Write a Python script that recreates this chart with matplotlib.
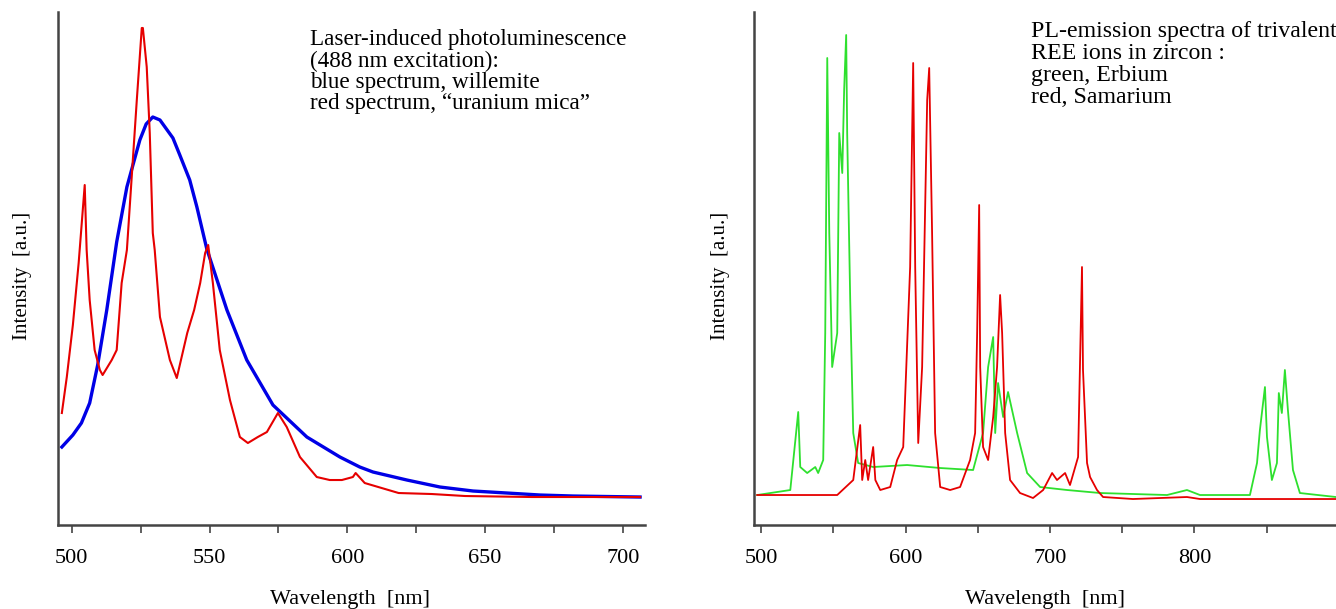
import numpy as np
import matplotlib.pyplot as plt
from matplotlib.ticker import MultipleLocator

plt.rcParams['font.family'] = ['Liberation Serif', 'DejaVu Serif']

# Left panel: willemite (blue) and "uranium mica" (red), 488 nm excitation
wl_blue = [496.4, 500.4, 503.5, 506.5, 509.4, 512.7, 516.3, 520.0, 524.7, 527.0, 529.4, 532.0,
           536.7, 539.2, 542.8, 545.4, 549.0, 556.3, 563.5, 573.0, 585.3, 597.3, 604.5,
           609.3, 621.6, 633.6, 645.6, 657.9, 669.9, 681.9, 706.2]
int_blue = [78, 90, 102, 122, 160, 215, 283, 338, 385, 401, 408, 405,
            387, 370, 345, 318, 276, 215, 165, 120, 88, 68, 58,
            53, 45, 38, 34, 32, 30, 29, 28]

wl_red = [496.4, 498.2, 500.4, 502.5, 504.7, 505.4, 506.5, 508.3, 510.2, 511.2, 514.5,
          516.3, 518.1, 520.0, 523.6, 525.4, 525.8, 527.2, 528.3, 529.4, 530.1, 532.0,
          535.6, 538.1, 541.9, 544.4, 546.6, 548.4, 549.5, 551.2, 553.7, 557.4, 561.0,
          563.9, 567.5, 570.8, 574.8, 578.0, 582.8, 588.9, 593.6, 598.0, 602.0, 603.0,
          606.3, 618.6, 630.6, 642.7, 667.0, 706.2]
int_red = [112, 148, 200, 262, 340, 275, 225, 175, 155, 150, 165,
           175, 242, 275, 425, 497, 497, 458, 392, 292, 275, 208,
           165, 147, 192, 215, 242, 272, 280, 242, 175, 125, 88,
           82, 88, 93, 112, 98, 68, 48, 45, 45, 48, 52,
           42, 32, 31, 29, 28, 28]

# Right panel: trivalent REE ions in zircon, Erbium (green) and Samarium (red)
wl_er = [497.2, 520.1, 525.6, 527.0, 531.8, 537.4, 539.4, 542.9, 544.3, 545.7, 547.1,
         549.1, 552.6, 554.0, 556.1, 557.4, 558.8, 559.5, 561.6, 563.7, 567.1, 577.5,
         601.0, 623.9, 646.7, 653.6, 657.1, 660.6, 662.0, 664.0, 667.5, 670.9, 677.2,
         684.1, 693.1, 711.8, 734.6, 781.0, 794.8, 803.8, 838.4, 843.3, 845.3, 848.8,
         850.2, 853.6, 857.1, 858.4, 860.5, 862.6, 864.7, 868.2, 873.0, 897.9]
int_er = [30, 35, 113, 58, 52, 58, 52, 65, 192, 467, 292,
          158, 192, 392, 352, 435, 490, 392, 225, 92, 62, 58,
          60, 57, 55, 92, 158, 188, 92, 142, 108, 133, 92,
          52, 38, 35, 32, 30, 35, 30, 30, 62, 95, 138,
          88, 45, 62, 132, 112, 155, 115, 55, 32, 28]

wl_sm = [497.2, 552.6, 563.7, 568.5, 569.9, 572.0, 574.0, 577.5, 579.0, 582.4, 589.3,
         594.1, 598.3, 603.1, 605.2, 606.6, 608.7, 611.4, 614.9, 616.3, 618.3, 620.4,
         623.9, 630.8, 637.7, 644.6, 648.1, 649.5, 650.9, 651.6, 653.6, 657.1, 660.6,
         663.3, 665.4, 666.8, 668.9, 672.3, 679.2, 688.2, 695.2, 701.4, 704.8, 710.4,
         713.8, 719.4, 722.1, 722.8, 725.6, 727.7, 732.5, 736.7, 757.4, 794.8, 803.8,
         897.9]
int_sm = [30, 30, 45, 100, 45, 65, 45, 78, 45, 35, 38,
          65, 78, 258, 462, 258, 82, 158, 425, 457, 292, 92,
          38, 35, 38, 65, 92, 192, 320, 158, 78, 65, 108,
          158, 230, 192, 92, 45, 32, 27, 35, 52, 45, 52,
          40, 68, 258, 155, 62, 48, 35, 28, 26, 28, 26,
          26]

fig = plt.figure(figsize=(13.36, 6.09), dpi=100)
ax1 = fig.add_axes([0.0434, 0.1379, 0.4394, 0.8424])
ax2 = fig.add_axes([0.5644, 0.1379, 0.4356, 0.8424])

ax1.plot(wl_blue, int_blue, color='#0000e6', lw=2.4)
ax1.plot(wl_red, int_red, color='#e60000', lw=1.5)
ax1.set_xlim(495, 708)
ax1.xaxis.set_major_locator(MultipleLocator(50))
ax1.xaxis.set_minor_locator(MultipleLocator(25))

ax2.plot(wl_er, int_er, color='#2ee02e', lw=1.3)
ax2.plot(wl_sm, int_sm, color='#e60000', lw=1.3)
ax2.set_xlim(495, 898)
ax2.xaxis.set_major_locator(MultipleLocator(100))
ax2.xaxis.set_minor_locator(MultipleLocator(50))

for ax in (ax1, ax2):
    ax.set_ylim(0, 513)
    ax.set_yticks([])
    ax.spines['top'].set_visible(False)
    ax.spines['right'].set_visible(False)
    ax.spines['left'].set_color('#444444')
    ax.spines['bottom'].set_color('#444444')
    ax.spines['left'].set_linewidth(1.8)
    ax.spines['bottom'].set_linewidth(1.8)
    ax.tick_params(axis='x', which='both', direction='out', length=6, width=1.2,
                   color='#444444', labelsize=16, pad=11)

fig.text(0.0165, 0.547, 'Intensity  [a.u.]', rotation=90, fontsize=15, ha='center', va='center')
fig.text(0.539, 0.547, 'Intensity  [a.u.]', rotation=90, fontsize=15, ha='center', va='center')
fig.text(0.262, 0.016, 'Wavelength  [nm]', fontsize=16, ha='center', va='center')
fig.text(0.782, 0.016, 'Wavelength  [nm]', fontsize=16, ha='center', va='center')

ax1.text(0.430, 0.966, 'Laser-induced photoluminescence\n(488 nm excitation):\n'
         'blue spectrum, willemite\nred spectrum, \u201curanium mica\u201d',
         transform=ax1.transAxes, fontsize=16.7, va='top', ha='left', linespacing=1.0)
ax2.text(0.476, 0.982, 'PL-emission spectra of trivalent\nREE ions in zircon :\n'
         'green, Erbium\nred, Samarium',
         transform=ax2.transAxes, fontsize=17.2, va='top', ha='left', linespacing=1.05)

fig.savefig('out.png', dpi=100)
